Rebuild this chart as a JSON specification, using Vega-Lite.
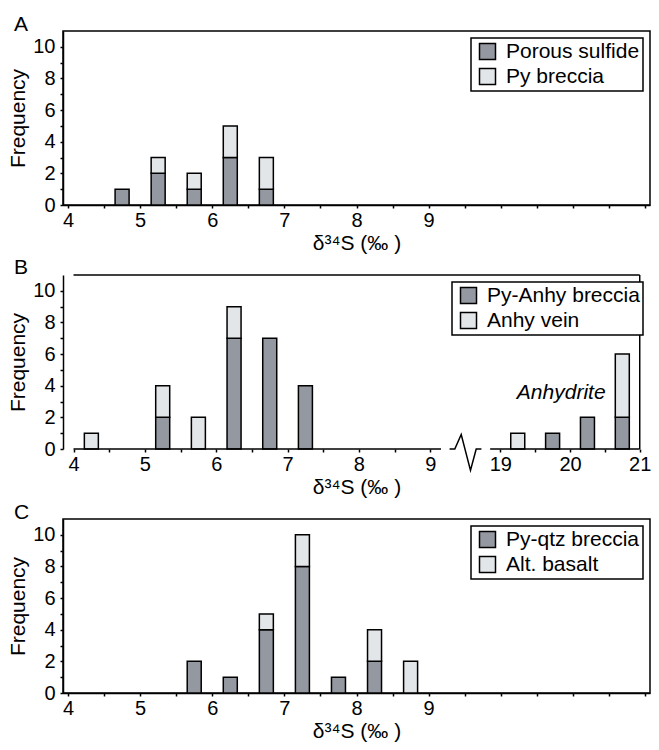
{
  "$schema": "https://vega.github.io/schema/vega-lite/v6.json",
  "autosize": {"type": "pad"},
  "padding": {"left": 7, "top": 13, "right": 0, "bottom": 0},
  "background": "white",
  "datasets": {
    "histA": [
      {"d34S": 4.75, "type": "Porous sulfide", "layer": 1, "count": 1},
      {"d34S": 5.25, "type": "Porous sulfide", "layer": 1, "count": 2},
      {"d34S": 5.25, "type": "Py breccia", "layer": 2, "count": 1},
      {"d34S": 5.75, "type": "Porous sulfide", "layer": 1, "count": 1},
      {"d34S": 5.75, "type": "Py breccia", "layer": 2, "count": 1},
      {"d34S": 6.25, "type": "Porous sulfide", "layer": 1, "count": 3},
      {"d34S": 6.25, "type": "Py breccia", "layer": 2, "count": 2},
      {"d34S": 6.75, "type": "Porous sulfide", "layer": 1, "count": 1},
      {"d34S": 6.75, "type": "Py breccia", "layer": 2, "count": 2}
    ],
    "histB": [
      {"d34S": 4.25, "type": "Anhy vein", "layer": 2, "count": 1},
      {"d34S": 5.25, "type": "Py-Anhy breccia", "layer": 1, "count": 2},
      {"d34S": 5.25, "type": "Anhy vein", "layer": 2, "count": 2},
      {"d34S": 5.75, "type": "Anhy vein", "layer": 2, "count": 2},
      {"d34S": 6.25, "type": "Py-Anhy breccia", "layer": 1, "count": 7},
      {"d34S": 6.25, "type": "Anhy vein", "layer": 2, "count": 2},
      {"d34S": 6.75, "type": "Py-Anhy breccia", "layer": 1, "count": 7},
      {"d34S": 7.25, "type": "Py-Anhy breccia", "layer": 1, "count": 4},
      {"d34S": 19.25, "type": "Anhy vein", "layer": 2, "count": 1},
      {"d34S": 19.75, "type": "Py-Anhy breccia", "layer": 1, "count": 1},
      {"d34S": 20.25, "type": "Py-Anhy breccia", "layer": 1, "count": 2},
      {"d34S": 20.75, "type": "Py-Anhy breccia", "layer": 1, "count": 2},
      {"d34S": 20.75, "type": "Anhy vein", "layer": 2, "count": 4}
    ],
    "histC": [
      {"d34S": 5.75, "type": "Py-qtz breccia", "layer": 1, "count": 2},
      {"d34S": 6.25, "type": "Py-qtz breccia", "layer": 1, "count": 1},
      {"d34S": 6.75, "type": "Py-qtz breccia", "layer": 1, "count": 4},
      {"d34S": 6.75, "type": "Alt. basalt", "layer": 2, "count": 1},
      {"d34S": 7.25, "type": "Py-qtz breccia", "layer": 1, "count": 8},
      {"d34S": 7.25, "type": "Alt. basalt", "layer": 2, "count": 2},
      {"d34S": 7.75, "type": "Py-qtz breccia", "layer": 1, "count": 1},
      {"d34S": 8.25, "type": "Py-qtz breccia", "layer": 1, "count": 2},
      {"d34S": 8.25, "type": "Alt. basalt", "layer": 2, "count": 2},
      {"d34S": 8.75, "type": "Alt. basalt", "layer": 2, "count": 2}
    ],
    "frameB": [
      {"xa": 4, "xb": 9.15, "ya": 0, "yb": 0},
      {"xa": 18.854, "xb": 21, "ya": 0, "yb": 0},
      {"xa": 4, "xb": 21, "ya": 11, "yb": 11},
      {"xa": 21, "xb": 21, "ya": 0, "yb": 11}
    ],
    "breakB": [
      {"i": 1, "xv": 18.272, "yv": 0},
      {"i": 2, "xv": 18.347, "yv": 0},
      {"i": 3, "xv": 18.439, "yv": 0.92},
      {"i": 4, "xv": 18.572, "yv": -1.35},
      {"i": 5, "xv": 18.654, "yv": 0},
      {"i": 6, "xv": 18.729, "yv": 0}
    ],
    "noteB": [
      {"label": "Anhydrite", "xv": 20.51, "yv": 3.18}
    ]
  },
  "spacing": 70,
  "bounds": "flush",
  "resolve": {"scale": {"color": "independent", "x": "independent", "y": "independent"}},
  "vconcat": [
    {
      "width": 587,
      "height": 174,
      "title": {"text": "A", "anchor": "start", "frame": "group", "dx": -49, "dy": 22, "offset": 1, "baseline": "alphabetic", "fontSize": 21, "fontWeight": "normal", "font": "Liberation Sans", "color": "black"},
      "data": {"name": "histA"},
      "mark": {"type": "bar", "stroke": "black", "strokeWidth": 1.5, "size": 14, "opacity": 1},
      "encoding": {
        "x": {"field": "d34S", "type": "quantitative", "scale": {"domain": [4, 12], "nice": false, "zero": false},
          "axis": {"title": "δ³⁴S (‰ )", "values": [4, 4.5, 5, 5.5, 6, 6.5, 7, 7.5, 8, 8.5, 9, 9.5, 10, 10.5, 11, 11.5, 12],
            "labelExpr": "datum.value % 1 === 0 && datum.value <= 9 ? '' + datum.value : ''",
            "encode": {"ticks": {"update": {"y": {"signal": "datum.value % 1 === 0 ? -3 : 0"}}}}}},
        "y": {"field": "count", "type": "quantitative", "stack": "zero", "scale": {"domain": [0, 11], "nice": false},
          "axis": {"title": "Frequency", "values": [0, 1, 2, 3, 4, 5, 6, 7, 8, 9, 10],
            "labelExpr": "datum.value % 2 === 0 ? '' + datum.value : ''",
            "encode": {"ticks": {"update": {"x": {"signal": "datum.value % 2 === 0 ? 3 : 0"}}}}}},
        "color": {"field": "type", "type": "nominal", "scale": {"domain": ["Porous sulfide", "Py breccia"], "range": ["#9498a0", "#e3e6e9"]}, "legend": {"title": null}},
        "order": {"field": "layer", "type": "quantitative"}
      }
    },
    {
      "width": 587,
      "height": 174,
      "view": {"stroke": null},
      "title": {"text": "B", "anchor": "start", "frame": "group", "dx": -49, "dy": 22, "offset": 1, "baseline": "alphabetic", "fontSize": 21, "fontWeight": "normal", "font": "Liberation Sans", "color": "black"},
      "layer": [
        {
          "data": {"name": "histB"},
          "mark": {"type": "bar", "stroke": "black", "strokeWidth": 1.5, "size": 14, "opacity": 1},
          "encoding": {
            "x": {"field": "d34S", "type": "quantitative", "scale": {"domain": [4, 9.2, 18.2, 21], "range": [0, 381.55, 381.55, 587], "nice": false, "zero": false},
              "axis": {"title": "δ³⁴S (‰ )", "domain": false, "values": [4, 4.5, 5, 5.5, 6, 6.5, 7, 7.5, 8, 8.5, 9, 19, 19.5, 20, 20.5, 21],
                "labelExpr": "datum.value % 1 === 0 ? '' + datum.value : ''",
                "encode": {"ticks": {"update": {"y": {"signal": "datum.value % 1 === 0 ? -3 : 0"}}}}}},
            "y": {"field": "count", "type": "quantitative", "stack": "zero", "scale": {"domain": [0, 11], "nice": false},
              "axis": {"title": "Frequency", "values": [0, 1, 2, 3, 4, 5, 6, 7, 8, 9, 10],
                "labelExpr": "datum.value % 2 === 0 ? '' + datum.value : ''",
                "encode": {"ticks": {"update": {"x": {"signal": "datum.value % 2 === 0 ? 3 : 0"}}}}}},
            "color": {"field": "type", "type": "nominal", "scale": {"domain": ["Py-Anhy breccia", "Anhy vein"], "range": ["#9498a0", "#e3e6e9"]}, "legend": {"title": null}},
            "order": {"field": "layer", "type": "quantitative"}
          }
        },
        {
          "data": {"name": "frameB"},
          "mark": {"type": "rule", "color": "black", "strokeWidth": 1.5},
          "encoding": {
            "x": {"field": "xa", "type": "quantitative",
              "axis": {"title": "δ³⁴S (‰ )", "domain": false, "values": [4, 4.5, 5, 5.5, 6, 6.5, 7, 7.5, 8, 8.5, 9, 19, 19.5, 20, 20.5, 21],
                "labelExpr": "datum.value % 1 === 0 ? '' + datum.value : ''",
                "encode": {"ticks": {"update": {"y": {"signal": "datum.value % 1 === 0 ? -3 : 0"}}}}}},
            "x2": {"field": "xb"},
            "y": {"field": "ya", "type": "quantitative",
              "axis": {"title": "Frequency", "values": [0, 1, 2, 3, 4, 5, 6, 7, 8, 9, 10],
                "labelExpr": "datum.value % 2 === 0 ? '' + datum.value : ''",
                "encode": {"ticks": {"update": {"x": {"signal": "datum.value % 2 === 0 ? 3 : 0"}}}}}},
            "y2": {"field": "yb"}
          }
        },
        {
          "data": {"name": "breakB"},
          "mark": {"type": "line", "color": "black", "strokeWidth": 1.5},
          "encoding": {
            "x": {"field": "xv", "type": "quantitative",
              "axis": {"title": "δ³⁴S (‰ )", "domain": false, "values": [4, 4.5, 5, 5.5, 6, 6.5, 7, 7.5, 8, 8.5, 9, 19, 19.5, 20, 20.5, 21],
                "labelExpr": "datum.value % 1 === 0 ? '' + datum.value : ''",
                "encode": {"ticks": {"update": {"y": {"signal": "datum.value % 1 === 0 ? -3 : 0"}}}}}},
            "y": {"field": "yv", "type": "quantitative",
              "axis": {"title": "Frequency", "values": [0, 1, 2, 3, 4, 5, 6, 7, 8, 9, 10],
                "labelExpr": "datum.value % 2 === 0 ? '' + datum.value : ''",
                "encode": {"ticks": {"update": {"x": {"signal": "datum.value % 2 === 0 ? 3 : 0"}}}}}},
            "order": {"field": "i", "type": "quantitative"}
          }
        },
        {
          "data": {"name": "noteB"},
          "mark": {"type": "text", "align": "right", "baseline": "alphabetic", "fontStyle": "italic", "fontSize": 21, "font": "Liberation Sans", "color": "black"},
          "encoding": {
            "x": {"field": "xv", "type": "quantitative",
              "axis": {"title": "δ³⁴S (‰ )", "domain": false, "values": [4, 4.5, 5, 5.5, 6, 6.5, 7, 7.5, 8, 8.5, 9, 19, 19.5, 20, 20.5, 21],
                "labelExpr": "datum.value % 1 === 0 ? '' + datum.value : ''",
                "encode": {"ticks": {"update": {"y": {"signal": "datum.value % 1 === 0 ? -3 : 0"}}}}}},
            "y": {"field": "yv", "type": "quantitative",
              "axis": {"title": "Frequency", "values": [0, 1, 2, 3, 4, 5, 6, 7, 8, 9, 10],
                "labelExpr": "datum.value % 2 === 0 ? '' + datum.value : ''",
                "encode": {"ticks": {"update": {"x": {"signal": "datum.value % 2 === 0 ? 3 : 0"}}}}}},
            "text": {"field": "label"}
          }
        }
      ]
    },
    {
      "width": 587,
      "height": 174,
      "title": {"text": "C", "anchor": "start", "frame": "group", "dx": -49, "dy": 22, "offset": 1, "baseline": "alphabetic", "fontSize": 21, "fontWeight": "normal", "font": "Liberation Sans", "color": "black"},
      "data": {"name": "histC"},
      "mark": {"type": "bar", "stroke": "black", "strokeWidth": 1.5, "size": 14, "opacity": 1},
      "encoding": {
        "x": {"field": "d34S", "type": "quantitative", "scale": {"domain": [4, 12], "nice": false, "zero": false},
          "axis": {"title": "δ³⁴S (‰ )", "values": [4, 4.5, 5, 5.5, 6, 6.5, 7, 7.5, 8, 8.5, 9, 9.5, 10, 10.5, 11, 11.5, 12],
            "labelExpr": "datum.value % 1 === 0 && datum.value <= 9 ? '' + datum.value : ''",
            "encode": {"ticks": {"update": {"y": {"signal": "datum.value % 1 === 0 ? -3 : 0"}}}}}},
        "y": {"field": "count", "type": "quantitative", "stack": "zero", "scale": {"domain": [0, 11], "nice": false},
          "axis": {"title": "Frequency", "values": [0, 1, 2, 3, 4, 5, 6, 7, 8, 9, 10],
            "labelExpr": "datum.value % 2 === 0 ? '' + datum.value : ''",
            "encode": {"ticks": {"update": {"x": {"signal": "datum.value % 2 === 0 ? 3 : 0"}}}}}},
        "color": {"field": "type", "type": "nominal", "scale": {"domain": ["Py-qtz breccia", "Alt. basalt"], "range": ["#9498a0", "#e3e6e9"]}, "legend": {"title": null}},
        "order": {"field": "layer", "type": "quantitative"}
      }
    }
  ],
  "config": {
    "font": "Liberation Sans",
    "view": {"stroke": "black", "strokeWidth": 1.5},
    "axis": {
      "grid": false, "domainColor": "black", "domainWidth": 1.5, "tickColor": "black", "tickWidth": 1.5, "tickSize": 3,
      "labelColor": "black", "labelFontSize": 20, "labelFont": "Liberation Sans", "labelPadding": 3, "labelFlush": false, "labelOverlap": false,
      "titleColor": "black", "titleFontSize": 21, "titleFont": "Liberation Sans", "titleFontWeight": "normal", "titlePadding": 3
    },
    "axisY": {"labelPadding": 5, "titlePadding": 4},
    "axisX": {"labelPadding": 2, "titlePadding": 2},
    "legend": {
      "orient": "top-right", "offset": 7, "strokeColor": "black", "strokeWidth": 1.5, "fillColor": "white", "padding": 3,
      "symbolType": "square", "symbolSize": 256, "symbolStrokeColor": "black", "symbolStrokeWidth": 1.5, "symbolOffset": 3,
      "labelFontSize": 21, "labelFont": "Liberation Sans", "labelColor": "black", "labelLimit": 300, "labelOffset": 8, "rowPadding": 2
    }
  }
}
